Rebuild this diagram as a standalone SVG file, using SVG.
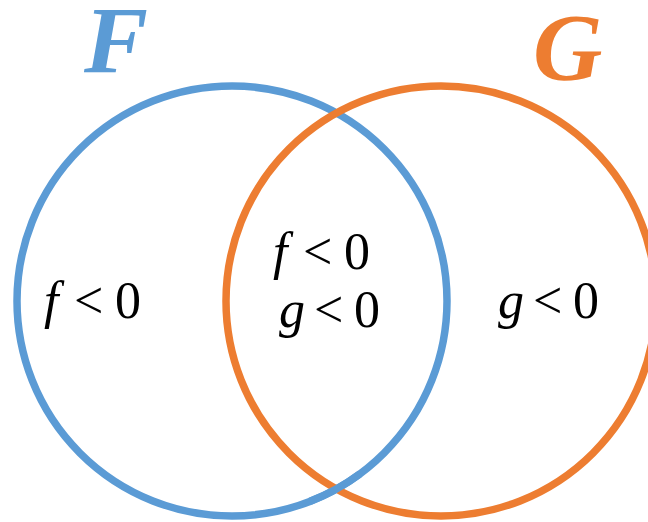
<svg xmlns="http://www.w3.org/2000/svg" width="648" height="522" viewBox="0 0 648 522">
<style>
.ring{fill:none;stroke-width:7.5}
.blue{stroke:#5B9BD5}
.orange{stroke:#ED7D31}
.title{font-family:"Liberation Serif","Times New Roman",serif;font-weight:bold;font-style:italic;font-size:96px}
.lbl{font-family:"Liberation Serif","Times New Roman",serif;font-size:52px;fill:#000}
.it{font-style:italic}
</style>
<rect width="648" height="522" fill="#fff"/>
<g id="setF">
<circle class="ring blue" cx="232" cy="301" r="215"/>
<text class="title" x="84" y="73" fill="#5B9BD5">F</text>
</g>
<g id="setG">
<circle class="ring orange" cx="441" cy="301" r="215"/>
<text class="title" x="533" y="80" fill="#ED7D31">G</text>
</g>
<g id="overlap">
<path class="ring blue" d="M310,501.35 A215,215 0 0 0 360,473.74"/>
</g>
<g id="labels">
<text class="lbl"><tspan class="it" x="44" y="318">f</tspan><tspan x="74" y="318">&lt;</tspan><tspan x="115" y="318">0</tspan></text>
<text class="lbl"><tspan class="it" x="273" y="269">f</tspan><tspan x="303" y="269">&lt;</tspan><tspan x="344" y="269">0</tspan></text>
<text class="lbl"><tspan class="it" x="279" y="327">g</tspan><tspan x="314" y="327">&lt;</tspan><tspan x="354" y="327">0</tspan></text>
<text class="lbl"><tspan class="it" x="498" y="318">g</tspan><tspan x="533" y="318">&lt;</tspan><tspan x="573" y="318">0</tspan></text>
</g>
</svg>
